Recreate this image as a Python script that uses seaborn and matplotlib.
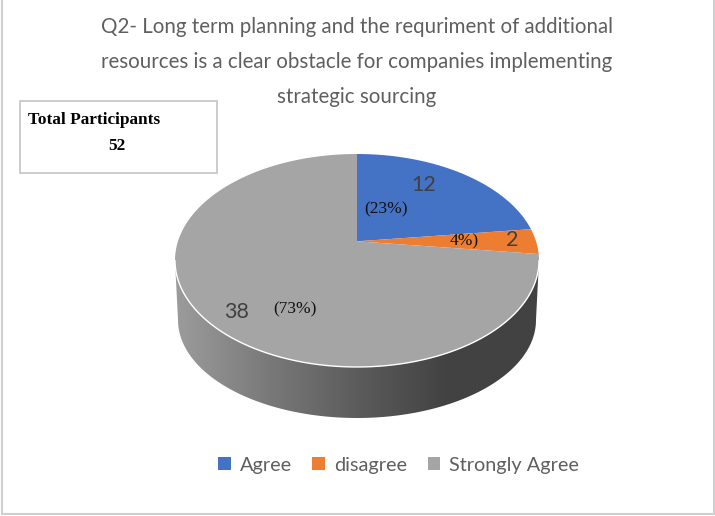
import numpy as np
import matplotlib
matplotlib.use("Agg")
import matplotlib.pyplot as plt
from matplotlib.patches import Rectangle
import seaborn as sns

categorias = ["Agree", "disagree", "Strongly Agree"]
respostas = [12, 2, 38]
percentagens = ["(23%)", "4%)", "(73%)"]
cores = ["#4472C4", "#ED7D31", "#A5A5A5"]
titulo = ("Q2- Long term planning and the requriment of additional\n"
          "resources is a clear obstacle for companies implementing\n"
          "strategic sourcing")

sns.set_theme(style="white")
plt.rcParams["font.family"] = ["Lato", "DejaVu Sans"]

fig, ax = plt.subplots(figsize=(7.15, 5.16), dpi=100)
ax.set_position([0, 0, 1, 1])

# tampa inclinada: elipse cujo vertice das fatias sobe por causa da perspetiva
cx, cy, rx, ry = 357, 260.5, 182, 106.5
k = 0.18


def perspetiva(x, y):
    w = 1 + k * y
    return cx + rx * x * np.sqrt(1 - k ** 2) / w, cy - ry * (y + k) / w


fatias, _ = ax.pie(respostas, startangle=90, counterclock=False)
polis = []
for fatia, cor in zip(fatias, cores):
    t = np.radians(np.linspace(fatia.theta1, fatia.theta2, 200))
    x, y = perspetiva(np.r_[0, np.cos(t)], np.r_[0, np.sin(t)])
    polis.append(ax.fill(x, y, color=cor, lw=0, zorder=3)[0])
    fatia.remove()

ax.set_aspect("auto")
ax.set_xlim(0, 715)
ax.set_ylim(516, 0)

# parede lateral com gradiente
t = np.linspace(0, np.pi, 300)
xt, yt = cx + rx * np.cos(t), cy + ry * np.sin(t)
xb, yb = cx + 179 * np.cos(t[::-1]), 320 + 98 * np.sin(t[::-1])
parede = ax.fill(np.r_[xt, xb], np.r_[yt, yb], color="none", lw=0, zorder=1)[0]
mapa = sns.blend_palette(["#9c9c9c", "#7a7a7a", "#5c5c5c", "#424242", "#424242"], as_cmap=True)
img = ax.imshow(np.linspace(0, 1, 256)[None, :], cmap=mapa, aspect="auto",
                extent=(175, 539, 420, 250), zorder=2)
img.set_clip_path(parede)
ax.set_xlim(0, 715)
ax.set_ylim(516, 0)

# filete branco na borda da tampa
ax.plot(xt, yt, color="white", lw=1, zorder=4)

# moldura do grafico
ax.add_patch(Rectangle((1.5, -5), 712.5, 519, fill=False, ec="#cfcfcf", lw=1.5, zorder=0))

ax.text(357, 62, titulo, ha="center", va="center", fontsize=14.8, color="#5f5f5f",
        linespacing=1.93, zorder=5)

# caixa do total
ax.add_patch(Rectangle((19.5, 101), 197.5, 72, fc="white", ec="#c8c8c8", lw=1.3, zorder=5))
ax.text(28, 120, "Total Participants", family="Liberation Serif", weight="bold",
        fontsize=12.4, color="black", va="center", zorder=6)
ax.text(117, 146, str(sum(respostas)), family="Liberation Serif", weight="bold",
        fontsize=12.4, color="black", ha="center", va="center", zorder=6)

# rotulos das fatias
for (px, py), n in zip([(424, 185), (512, 240), (237, 312)], respostas):
    ax.text(px, py, str(n), ha="center", va="center", fontsize=15.5, color="#404040", zorder=6)
for (px, py), p in zip([(386, 209), (464, 241), (295, 309)], percentagens):
    ax.text(px, py, p, family="Liberation Serif", ha="center", va="center",
            fontsize=12.5, color="#111111", zorder=6)

ax.legend(polis, categorias, ncol=3, frameon=False, loc="center",
          bbox_to_anchor=(398.5 / 715, 1 - 465 / 516), fontsize=14.3, labelcolor="#5f5f5f",
          handlelength=0.62, handleheight=0.62, handletextpad=0.45, columnspacing=1.05)

fig.savefig("out.png", dpi=100, facecolor="white")
